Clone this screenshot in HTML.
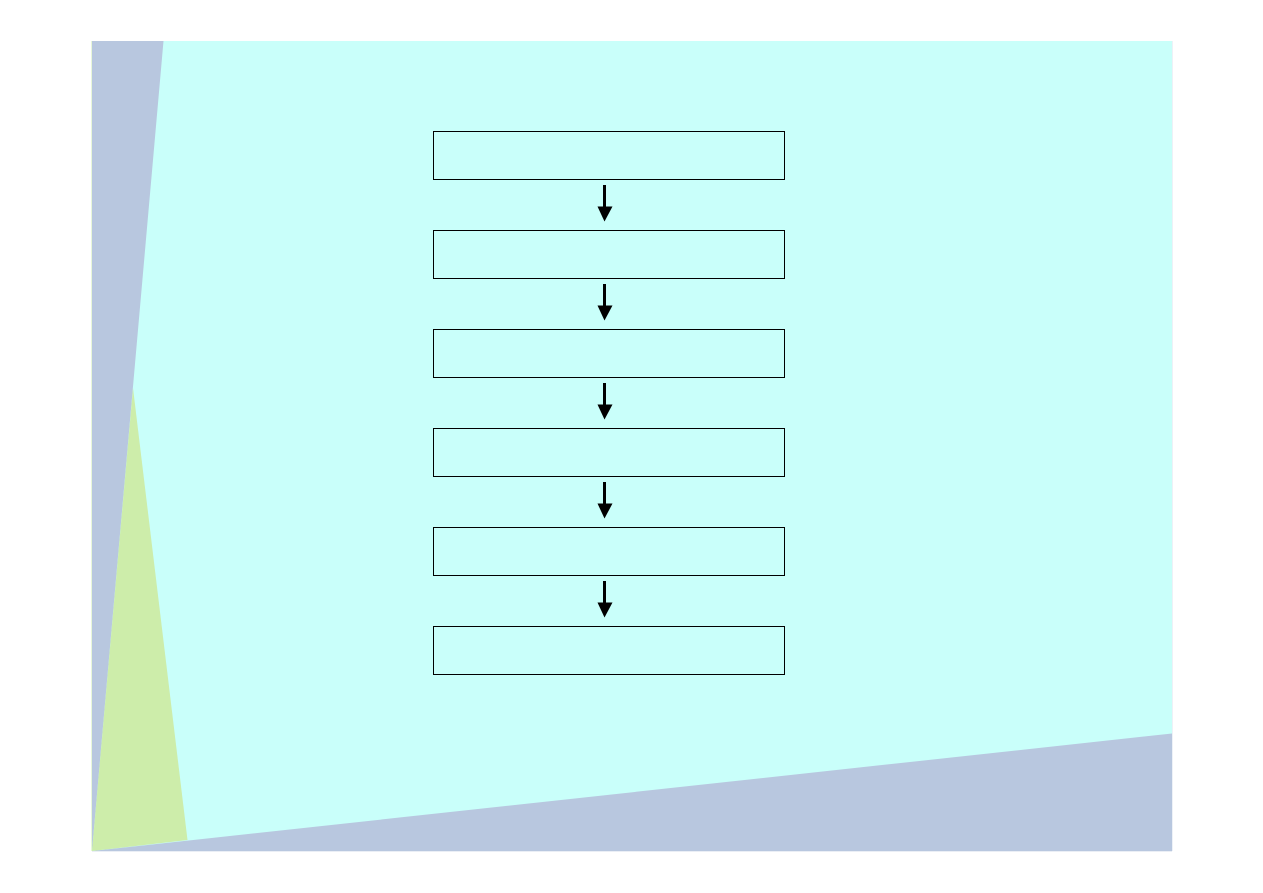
<!DOCTYPE html>
<html>
<head>
<meta charset="utf-8">
<title>Flow diagram</title>
<style>
html,body{margin:0;padding:0;background:#fff;width:1263px;height:893px;overflow:hidden}
svg{display:block}
</style>
</head>
<body>
<svg width="1263" height="893" viewBox="0 0 1263 893" xmlns="http://www.w3.org/2000/svg">
<rect width="1263" height="893" fill="#ffffff"/>
<rect x="91" y="41" width="1" height="810" fill="#cdedaa" opacity="0.45"/>
<rect x="92" y="41" width="1080" height="810" fill="#b8c7df"/>
<rect x="92" y="851" width="1080" height="1" fill="#b8c7df" opacity="0.3"/>
<rect x="1172" y="41" width="1" height="810" fill="#b8c7df" opacity="0.25"/>
<polygon points="163.500,41 1172,41 1172,733.500 92,851" fill="#c9fffa"/>
<polygon points="133,388 187.500,840 92,851" fill="#cdedaa"/>
<g fill="none" stroke="#000" stroke-width="1">
<rect x="433.500" y="131.500" width="351" height="48"/>
<rect x="433.500" y="230.500" width="351" height="48"/>
<rect x="433.500" y="329.500" width="351" height="48"/>
<rect x="433.500" y="428.500" width="351" height="48"/>
<rect x="433.500" y="527.500" width="351" height="48"/>
<rect x="433.500" y="626.500" width="351" height="48"/>
</g>
<g fill="#000">
<path d="M603 185h3v21.500h6.500l-8 15l-7-15h5.500z"/>
<path d="M603 185h3v21.500h6.500l-8 15l-7-15h5.500z" transform="translate(0,99)"/>
<path d="M603 185h3v21.500h6.500l-8 15l-7-15h5.500z" transform="translate(0,198)"/>
<path d="M603 185h3v21.500h6.500l-8 15l-7-15h5.500z" transform="translate(0,297)"/>
<path d="M603 185h3v21.500h6.500l-8 15l-7-15h5.500z" transform="translate(0,396)"/>
</g>
</svg>
</body>
</html>
